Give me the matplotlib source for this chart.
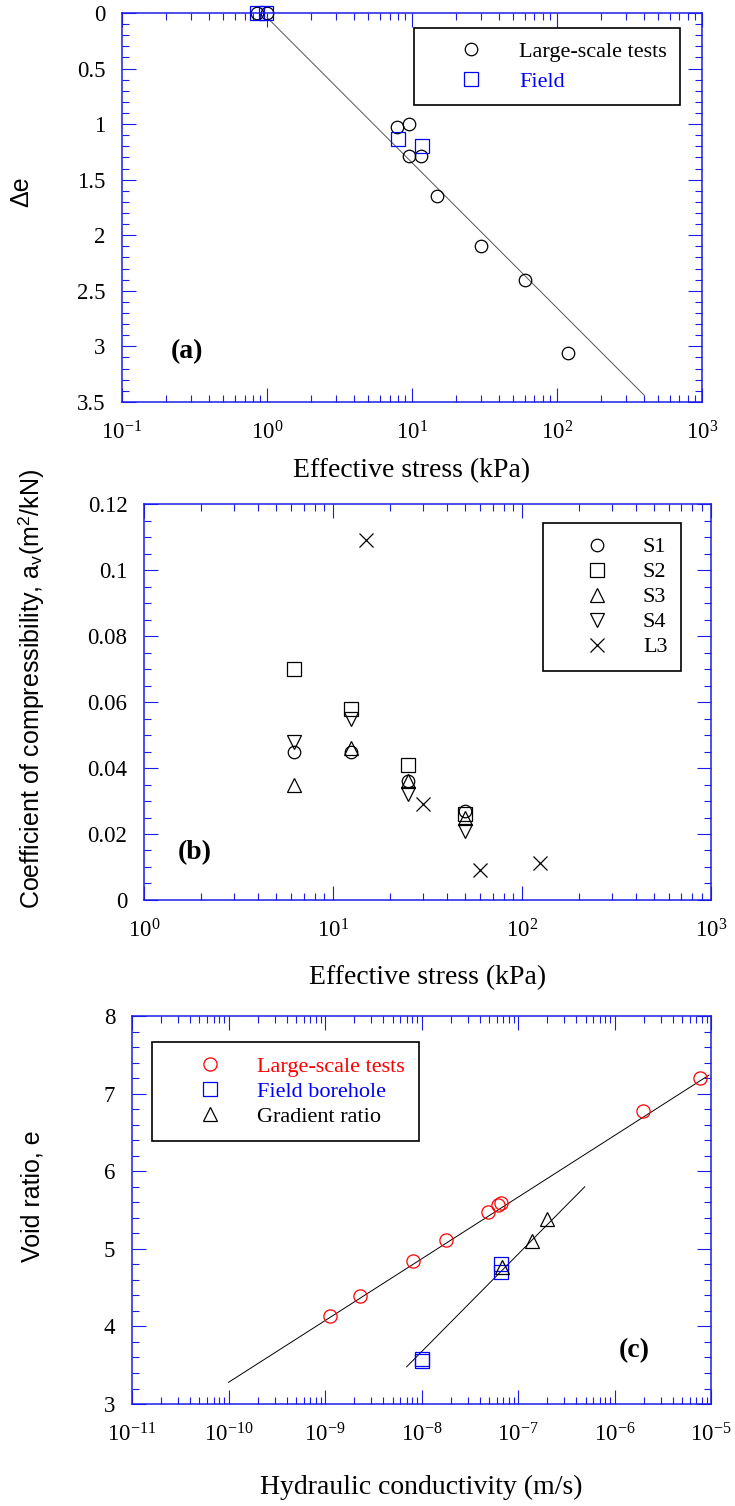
import numpy as np
import matplotlib
matplotlib.use('Agg')
import matplotlib.pyplot as plt
import matplotlib.ticker as mticker

plt.rcParams['font.family'] = 'serif'
plt.rcParams['font.serif'] = ['Liberation Serif', 'DejaVu Serif']
plt.rcParams['mathtext.fontset'] = 'custom'
plt.rcParams['mathtext.rm'] = 'Liberation Serif'
plt.rcParams['mathtext.it'] = 'Liberation Serif:italic'
plt.rcParams['mathtext.bf'] = 'Liberation Serif:bold'
plt.rcParams['axes.unicode_minus'] = False

AX_BLUE = '#1c1ce8'
SANS = 'Liberation Sans'

# (a) change in void ratio vs effective stress
a_tests_x = [0.85, 1.0, 7.9, 9.5, 9.5, 11.6, 15, 30, 60, 120]
a_tests_y = [0, 0, 1.03, 1.0, 1.29, 1.29, 1.65, 2.1, 2.4, 3.06]
a_field_x = [0.85, 0.98, 8.0, 11.7]
a_field_y = [0, 0, 1.13, 1.2]
a_fit_x = [1.0, 400]
a_fit_y = [0.04, 3.44]

# (b) coefficient of compressibility vs effective stress
b_stress = [6.2, 12.4, 25, 50]
b_s1 = [0.045, 0.045, 0.036, 0.027]
b_s2 = [0.070, 0.058, 0.041, 0.026]
b_s3 = [0.035, 0.046, 0.036, 0.025]
b_s4 = [0.048, 0.055, 0.032, 0.021]
b_l3_x = [15, 30, 60, 125]
b_l3_y = [0.109, 0.029, 0.009, 0.0113]

# (c) void ratio vs hydraulic conductivity
c_tests_k = [1.13e-9, 2.3e-9, 8.2e-9, 1.78e-8, 4.9e-8, 6.25e-8, 6.6e-8, 1.97e-6, 7.7e-6]
c_tests_e = [4.14, 4.39, 4.85, 5.12, 5.48, 5.56, 5.59, 6.78, 7.2]
c_field_k = [1.0e-8, 1.0e-8, 6.7e-8, 6.7e-8]
c_field_e = [3.55, 3.58, 4.70, 4.80]
c_grad_k = [6.8e-8, 1.4e-7, 2.0e-7]
c_grad_e = [4.77, 5.10, 5.39]
c_fit1_k = [1e-10, 9.5e-6]
c_fit1_e = [3.28, 7.24]
c_fit2_k = [7e-9, 4.9e-7]
c_fit2_e = [3.48, 5.80]


def style_axes(ax, xlim, ylim, ymajor, yminor):
    ax.set_xscale('log')
    ax.set_xlim(xlim)
    ax.set_ylim(ylim)
    ax.xaxis.set_major_locator(mticker.LogLocator(base=10, numticks=100))
    ax.xaxis.set_minor_locator(mticker.LogLocator(base=10, subs=np.arange(2, 10), numticks=100))
    ax.xaxis.set_minor_formatter(mticker.NullFormatter())
    ax.yaxis.set_major_locator(mticker.MultipleLocator(ymajor))
    ax.yaxis.set_minor_locator(mticker.MultipleLocator(yminor))
    ax.yaxis.set_major_formatter(mticker.FuncFormatter(lambda v, p: '%g' % round(v, 6)))
    ax.tick_params(which='both', direction='in', top=True, right=True,
                   color=AX_BLUE, width=0.8, labelsize=16.5)
    ax.tick_params(which='major', length=10)
    ax.tick_params(which='minor', length=5)
    ax.tick_params(axis='x', pad=14)
    ax.tick_params(axis='y', pad=12)
    for sp in ax.spines.values():
        sp.set_color(AX_BLUE)
        sp.set_linewidth(1.1)


def labels(ax, xlabel, ylabel, xl_y, yl_xy, tag, tag_xy):
    ax.set_xlabel(xlabel, fontsize=20, va='center')
    ax.xaxis.set_label_coords(0.5, xl_y)
    ax.set_ylabel(ylabel, fontsize=18, family=SANS, va='center')
    ax.yaxis.set_label_coords(*yl_xy)
    ax.text(tag_xy[0], tag_xy[1], tag, transform=ax.transAxes, fontsize=20,
            fontweight='bold', ha='center', va='center')


def legend(ax, loc, anchor, bpad, hlen, tpad, lspace, colors=None):
    lg = ax.legend(loc=loc, bbox_to_anchor=anchor, borderaxespad=0, fontsize=16,
                   frameon=True, fancybox=False, edgecolor='black', framealpha=1,
                   borderpad=bpad, handlelength=hlen, handletextpad=tpad,
                   labelspacing=lspace, numpoints=1)
    lg.get_frame().set_linewidth(1.2)
    if colors:
        for t, c in zip(lg.get_texts(), colors):
            t.set_color(c)
    return lg


fig = plt.figure(figsize=(7.35, 15.06), dpi=100)

mk = dict(ls='none', mfc='none', mew=0.9, clip_on=False)

# ---- (a)
ax1 = fig.add_axes([0.166, 0.7331, 0.789, 0.2583])
ax1.plot(a_fit_x, a_fit_y, color='#555555', lw=0.7)
ax1.plot(a_tests_x, a_tests_y, marker='o', ms=9, mec='black', label='Large-scale tests', **mk)
ax1.plot(a_field_x, a_field_y, marker='s', ms=9.5, mec='blue', label='Field', **mk)
style_axes(ax1, (0.1, 1000), (3.5, 0), 0.5, 0.1)
labels(ax1, 'Effective stress (kPa)', '\u0394e', -0.177, (-0.174, 0.54), '(a)', (0.112, 0.129))
legend(ax1, 'upper right', (0.963, 0.961), 0.6, 4.0, 0.16, 0.42, ['black', 'blue'])

# ---- (b)
ax2 = fig.add_axes([0.196, 0.4024, 0.771, 0.2629])
ax2.plot(b_stress, b_s1, marker='o', ms=9, mec='black', label='S1', **mk)
ax2.plot(b_stress, b_s2, marker='s', ms=9.5, mec='black', label='S2', **mk)
ax2.plot(b_stress, b_s3, marker='^', ms=9.5, mec='black', label='S3', **mk)
ax2.plot(b_stress, b_s4, marker='v', ms=9.5, mec='black', label='S4', **mk)
ax2.plot(b_l3_x, b_l3_y, marker='x', ms=10, mec='black', label='L3', **mk)
style_axes(ax2, (1, 1000), (0, 0.12), 0.02, 0.005)
labels(ax2, 'Effective stress (kPa)',
       'Coefficient of compressibility, a$_\\mathdefault{v}$(m$^\\mathdefault{2}$/kN)',
       -0.197, (-0.2, 0.533), '(b)', (0.089, 0.12))
legend(ax2, 'upper right', (0.947, 0.951), 0.6, 3.65, 0.23, 0.2)

# ---- (c)
ax3 = fig.add_axes([0.1796, 0.0677, 0.788, 0.2576])
ax3.plot(c_fit1_k, c_fit1_e, color='black', lw=0.7)
ax3.plot(c_fit2_k, c_fit2_e, color='black', lw=0.7)
ax3.plot(c_tests_k, c_tests_e, marker='o', ms=9.5, mec='red', label='Large-scale tests', **mk)
ax3.plot(c_field_k, c_field_e, marker='s', ms=10, mec='blue', label='Field borehole', **mk)
ax3.plot(c_grad_k, c_grad_e, marker='^', ms=10, mec='black', label='Gradient ratio', **mk)
style_axes(ax3, (1e-11, 1e-5), (3, 8), 1, 0.2)
labels(ax3, 'Hydraulic conductivity (m/s)', 'Void ratio, e', -0.214, (-0.171, 0.536),
       '(c)', (0.868, 0.137))
legend(ax3, 'upper left', (0.035, 0.932), 0.63, 3.9, 0.2, 0.2, ['red', 'blue', 'black'])

fig.savefig('out.png', dpi=100)
